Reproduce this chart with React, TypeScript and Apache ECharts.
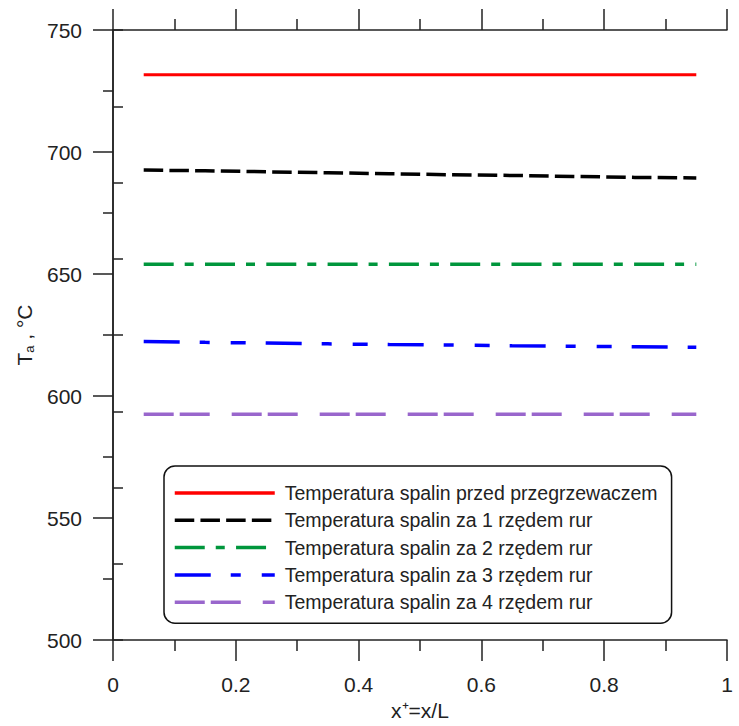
import React, { useEffect, useRef } from "react";
import * as echarts from "echarts";

// x positions along the superheater (x+ = x/L)
const xPositions = [0.05, 0.15, 0.25, 0.35, 0.45, 0.55, 0.65, 0.75, 0.85, 0.95];

// Flue gas temperatures, °C
const tempBefore = [731.7, 731.7, 731.7, 731.7, 731.7, 731.7, 731.7, 731.7, 731.7, 731.7];
const tempRow1 = [692.6, 692.3, 691.9, 691.5, 691.1, 690.7, 690.4, 690.0, 689.6, 689.4];
const tempRow2 = [654.0, 654.0, 654.0, 654.0, 654.0, 654.0, 654.0, 654.0, 654.0, 654.0];
const tempRow3 = [622.4, 622.0, 621.7, 621.4, 621.1, 620.9, 620.6, 620.4, 620.2, 620.0];
const tempRow4 = [592.5, 592.5, 592.5, 592.5, 592.5, 592.5, 592.5, 592.5, 592.5, 592.5];

const seriesNames = [
  "Temperatura spalin przed przegrzewaczem",
  "Temperatura spalin za 1 rzędem rur",
  "Temperatura spalin za 2 rzędem rur",
  "Temperatura spalin za 3 rzędem rur",
  "Temperatura spalin za 4 rzędem rur",
];

const seriesValues = [tempBefore, tempRow1, tempRow2, tempRow3, tempRow4];
const seriesColors = ["#ff0000", "#000000", "#00963c", "#0000ff", "#9966cc"];
const seriesDash: (string | number[])[] = [
  "solid",
  [19.5, 6.2],
  [30, 11, 9, 11.3],
  [36, 20, 10, 21, 15, 20],
  [30, 6, 30, 22],
];
const seriesWidth = [3, 3.5, 3.5, 3.5, 3.5];

const FONT = "Liberation Sans, Arial, sans-serif";
const AXIS_COLOR = "#222";

export default function App() {
  const ref = useRef<HTMLDivElement>(null);

  useEffect(() => {
    if (!ref.current) return;
    const chart = echarts.init(ref.current, undefined, { renderer: "svg" });

    const axisLine = { show: true, lineStyle: { color: AXIS_COLOR, width: 1.5 } };

    const option: echarts.EChartsOption = {
      animation: false,
      backgroundColor: "#ffffff",
      textStyle: { fontFamily: FONT },
      grid: { left: 113, right: 12, top: 30, bottom: 84, containLabel: false },
      legend: {
        orient: "vertical",
        left: 164,
        top: 466,
        backgroundColor: "#ffffff",
        borderColor: "#111",
        borderWidth: 1.5,
        borderRadius: 11,
        padding: [17, 14, 11, 9],
        itemWidth: 100,
        itemHeight: 14,
        itemGap: 7.3,
        itemStyle: { opacity: 0 },
        lineStyle: { width: 3.5 },
        textStyle: {
          fontFamily: FONT,
          fontSize: 19.5,
          color: "#222",
          lineHeight: 20,
          padding: [0, 0, 0, 5],
        },
        data: seriesNames,
      },
      xAxis: [
        {
          type: "value",
          position: "bottom",
          min: 0,
          max: 1,
          interval: 0.2,
          axisLine,
          axisTick: { show: true, inside: false, length: 21, lineStyle: { color: AXIS_COLOR, width: 1.5 } },
          minorTick: { show: true, splitNumber: 2, length: 11, lineStyle: { color: AXIS_COLOR, width: 1.5 } },
          splitLine: { show: false },
          axisLabel: { fontFamily: FONT, fontSize: 21, color: AXIS_COLOR, margin: 34 },
          name: "x\u207A=x/L",
          nameLocation: "middle",
          nameGap: 51,
          nameTextStyle: { fontFamily: FONT, fontSize: 21, color: AXIS_COLOR },
        },
        {
          type: "value",
          position: "top",
          min: 0,
          max: 1,
          interval: 0.2,
          axisLine,
          axisTick: { show: true, inside: false, length: 21, lineStyle: { color: AXIS_COLOR, width: 1.5 } },
          minorTick: { show: true, splitNumber: 2, length: 11, lineStyle: { color: AXIS_COLOR, width: 1.5 } },
          splitLine: { show: false },
          axisLabel: { show: false },
        },
      ],
      yAxis: [
        {
          type: "value",
          position: "left",
          min: 500,
          max: 750,
          interval: 50,
          axisLine,
          axisTick: { show: true, inside: false, length: 20, lineStyle: { color: AXIS_COLOR, width: 1.5 } },
          minorTick: { show: true, splitNumber: 2, length: 10, lineStyle: { color: AXIS_COLOR, width: 1.5 } },
          splitLine: { show: false },
          axisLabel: { fontFamily: FONT, fontSize: 21, color: AXIS_COLOR, margin: 31 },
          name: "{t|T}{s|a}{t| , °C}",
          nameLocation: "middle",
          nameGap: 77,
          nameTextStyle: {
            fontFamily: FONT,
            color: AXIS_COLOR,
            rich: {
              t: { fontFamily: FONT, fontSize: 21, color: AXIS_COLOR },
              s: { fontFamily: FONT, fontSize: 13, color: AXIS_COLOR, padding: [10, 0, 0, 0] },
            },
          },
        },
        {
          type: "value",
          position: "right",
          min: 0,
          max: 8,
          interval: 1,
          axisLine,
          axisTick: { show: true, inside: false, length: 10, lineStyle: { color: AXIS_COLOR, width: 1.5 } },
          splitLine: { show: false },
          axisLabel: { show: false },
        },
      ],
      series: seriesNames.map((name, i) => ({
        name,
        type: "line",
        xAxisIndex: 0,
        yAxisIndex: 0,
        showSymbol: false,
        symbol: "none",
        smooth: false,
        color: seriesColors[i],
        lineStyle: { color: seriesColors[i], width: seriesWidth[i], type: seriesDash[i] as any },
        data: xPositions.map((x, j) => [x, seriesValues[i][j]]),
      })),
    };

    chart.setOption(option);
    return () => chart.dispose();
  }, []);

  return (
    <div
      ref={ref}
      style={{ position: "fixed", left: 0, top: 0, width: 739, height: 726, background: "#fff" }}
    />
  );
}
